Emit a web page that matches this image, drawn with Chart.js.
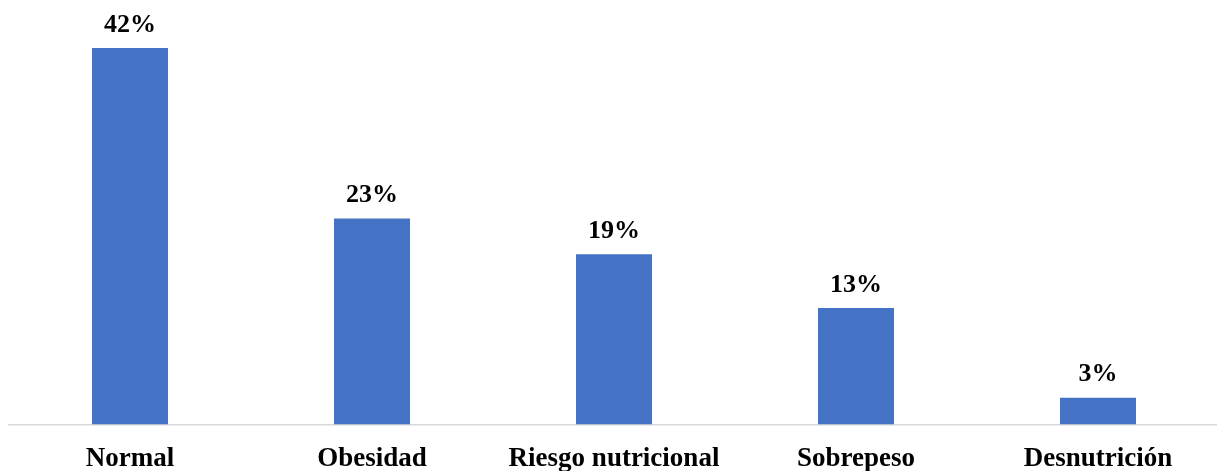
<!DOCTYPE html>
<html>
<head>
<meta charset="utf-8">
<script src="https://cdn.jsdelivr.net/npm/chart.js@4.4.0/dist/chart.umd.min.js"></script>
<style>
  html, body { margin: 0; padding: 0; background: #ffffff; overflow: hidden; }
  #wrap { position: relative; width: 1222px; height: 471px; }
</style>
</head>
<body>
<div id="wrap"><canvas id="chart"></canvas></div>
<script>
// categorias y porcentajes
const categorias = ['Normal', 'Obesidad', 'Riesgo nutricional', 'Sobrepeso', 'Desnutrición'];
const porcentajes = [42, 23, 19, 13, 3];

const FUENTE = '"Liberation Serif", "Times New Roman", serif';
const AZUL = '#4472C4';

// etiqueta de valor sobre cada barra
const etiquetasValor = {
    id: 'etiquetasValor',
    afterDatasetsDraw(chart) {
        const ctx = chart.ctx;
        const meta = chart.getDatasetMeta(0);
        ctx.save();
        ctx.font = 'bold 26px ' + FUENTE;
        ctx.fillStyle = '#000000';
        ctx.textAlign = 'center';
        ctx.textBaseline = 'alphabetic';
        meta.data.forEach((bar, i) => {
            ctx.fillText(porcentajes[i] + '%', bar.x, bar.y - 16.5);
        });
        ctx.restore();
    }
};

new Chart(document.getElementById('chart'), {
    type: 'bar',
    data: {
        labels: categorias,
        datasets: [{
            data: porcentajes,
            backgroundColor: AZUL,
            borderWidth: 0,
            barPercentage: 0.314,
            categoryPercentage: 1.0
        }]
    },
    options: {
        responsive: true,
        maintainAspectRatio: false,
        animation: false,
        layout: { padding: { left: 9, right: 3, top: 5, bottom: -22 } },
        plugins: {
            legend: { display: false },
            tooltip: { enabled: false }
        },
        scales: {
            x: {
                grid: { display: false, drawTicks: false },
                border: { display: true, color: '#d9d9d9', width: 1.5 },
                ticks: {
                    color: '#000000',
                    padding: 18,
                    font: { family: FUENTE, size: 27, weight: 'bold' }
                }
            },
            y: {
                display: false,
                min: 0,
                max: 46.8
            }
        }
    },
    plugins: [etiquetasValor]
});
</script>
</body>
</html>
